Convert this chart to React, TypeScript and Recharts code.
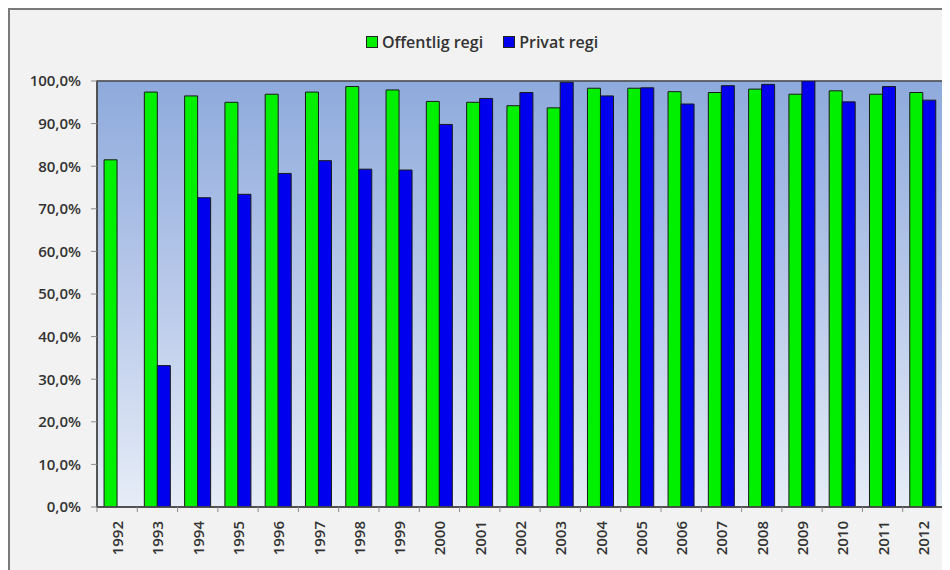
import React from "react";
import {
  BarChart,
  Bar,
  XAxis,
  YAxis,
  CartesianGrid,
  Legend,
  ReferenceArea,
} from "recharts";

const years = [
  "1992", "1993", "1994", "1995", "1996", "1997", "1998", "1999", "2000", "2001", "2002",
  "2003", "2004", "2005", "2006", "2007", "2008", "2009", "2010", "2011", "2012",
];
const offentlig = [
  81.5, 97.4, 96.5, 95.0, 96.9, 97.4, 98.7, 97.9, 95.2, 95.0, 94.2,
  93.7, 98.3, 98.3, 97.5, 97.3, 98.1, 96.9, 97.7, 96.9, 97.3,
];
const privat = [
  null, 33.2, 72.6, 73.4, 78.3, 81.3, 79.3, 79.1, 89.8, 95.9, 97.3,
  99.7, 96.5, 98.4, 94.6, 98.9, 99.2, 100.0, 95.1, 98.7, 95.5,
];
const yTicks = [0, 10, 20, 30, 40, 50, 60, 70, 80, 90, 100];
const seriesNames = ["Offentlig regi", "Privat regi"];

const data = years.map((y, i) => ({
  year: y,
  off: offentlig[i],
  priv: privat[i],
}));

const GREEN = "#00f000";
const BLUE = "#0000ee";
const FONT = "'Open Sans', sans-serif";

const fmt = (v: number) => v.toFixed(1).replace(".", ",") + "%";

const XTick = (props: any) => {
  const { x, y, payload } = props;
  const off = payload && payload.offset ? payload.offset : 0;
  return (
    <g>
      <line x1={x - off} x2={x - off} y1={y - 8} y2={y - 3} stroke="#8c8c8c" />
      <text
        x={x}
        y={y + 6}
        transform={`rotate(-90, ${x}, ${y + 6})`}
        textAnchor="end"
        dominantBaseline="central"
        fontFamily={FONT}
        fontWeight={600}
        fontSize={15}
        fill="#333"
      >
        {payload.value}
      </text>
    </g>
  );
};

const LegendContent = () => (
  <div
    style={{
      height: 20,
      display: "flex",
      justifyContent: "center",
      alignItems: "center",
      fontFamily: FONT,
      fontWeight: 600,
      fontSize: 16,
      color: "#333",
      paddingLeft: 4,
    }}
  >
    {[GREEN, BLUE].map((c, i) => (
      <span key={i} style={{ display: "flex", alignItems: "center", marginRight: i === 0 ? 20 : 0 }}>
        <span
          style={{
            width: 10,
            height: 10,
            background: c,
            border: "1px solid #222",
            marginRight: 4,
            display: "inline-block",
          }}
        />
        {seriesNames[i]}
      </span>
    ))}
  </div>
);

export default function App() {
  return (
    <div
      style={{
        width: 940,
        height: 560,
        background: "#f2f2f2",
        borderTop: "2px solid #7a7a7a",
        borderLeft: "2px solid #7a7a7a",
        overflow: "hidden",
      }}
    >
      <BarChart
        width={940}
        height={560}
        data={data}
        margin={{ top: 51, right: 7, left: 0, bottom: 0 }}
        barCategoryGap="17.5%"
        barGap={0}
      >
        <defs>
          <linearGradient id="plotBg" x1="0" y1="0" x2="0" y2="1">
            <stop offset="0%" stopColor="#8eaadc" />
            <stop offset="50%" stopColor="#b9c9ea" />
            <stop offset="100%" stopColor="#e6edf7" />
          </linearGradient>
        </defs>
        <ReferenceArea
          y1={0}
          y2={100}
          fill="url(#plotBg)"
          fillOpacity={1}
          stroke="#4a4a4a"
          strokeWidth={1.5}
          ifOverflow="visible"
        />
        <CartesianGrid vertical={false} stroke="#808080" strokeOpacity={0.8} />
        <Legend
          verticalAlign="top"
          align="center"
          content={<LegendContent />}
          wrapperStyle={{ top: 22, left: 0, width: 940 }}
        />
        <XAxis
          dataKey="year"
          height={63}
          tickLine={false}
          axisLine={{ stroke: "#4a4a4a", strokeWidth: 1.5 }}
          tick={<XTick />}
          interval={0}
        />
        <YAxis
          width={87}
          domain={[0, 100]}
          ticks={yTicks}
          tickFormatter={fmt}
          axisLine={{ stroke: "#4a4a4a", strokeWidth: 1.5 }}
          tickLine={{ stroke: "#8c8c8c" }}
          tickSize={6}
          tickMargin={10}
          tick={{ fontFamily: FONT, fontWeight: 600, fontSize: 15, fill: "#333" }}
          allowDataOverflow
        />
        <Bar dataKey="off" name={seriesNames[0]} fill={GREEN} stroke="#1a1a1a" strokeWidth={1} isAnimationActive={false} />
        <Bar dataKey="priv" name={seriesNames[1]} fill={BLUE} stroke="#1a1a1a" strokeWidth={1} isAnimationActive={false} />
      </BarChart>
    </div>
  );
}
